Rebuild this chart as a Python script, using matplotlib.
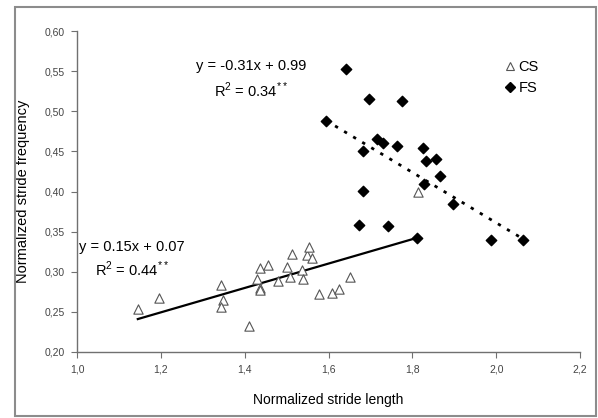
import matplotlib
matplotlib.use("Agg")
import matplotlib.pyplot as plt
import numpy as np
from matplotlib.lines import Line2D
from matplotlib.patches import Rectangle

plt.rcParams["font.family"] = ["Liberation Sans", "DejaVu Sans"]
plt.rcParams["mathtext.fontset"] = "custom"
plt.rcParams["mathtext.rm"] = "Liberation Sans"

# CS group (open triangles)
cs_x = [1.145, 1.196, 1.343, 1.349, 1.343, 1.410, 1.430, 1.437, 1.456, 1.437,
        1.437, 1.480, 1.502, 1.507, 1.514, 1.536, 1.538, 1.548, 1.554, 1.561,
        1.578, 1.608, 1.624, 1.651, 1.813]
cs_y = [0.254, 0.267, 0.283, 0.265, 0.256, 0.232, 0.291, 0.305, 0.308, 0.280,
        0.277, 0.289, 0.306, 0.293, 0.322, 0.302, 0.291, 0.321, 0.331, 0.317,
        0.272, 0.274, 0.279, 0.293, 0.400]

# FS group (filled diamonds)
fs_x = [1.642, 1.697, 1.776, 1.594, 1.715, 1.729, 1.683, 1.764, 1.826, 1.833,
        1.856, 1.866, 1.828, 1.683, 1.896, 1.673, 1.741, 1.810, 1.988, 2.065]
fs_y = [0.553, 0.515, 0.513, 0.488, 0.465, 0.460, 0.451, 0.457, 0.454, 0.438,
        0.440, 0.419, 0.409, 0.401, 0.384, 0.358, 0.357, 0.342, 0.340, 0.339]

# regression lines (slope, intercept) and x range
cs_fit = (0.152, 0.067)
cs_range = (1.145, 1.81)
fs_fit = (-0.314, 0.989)
fs_range = (1.594, 2.065)

x_ticks = [1.0, 1.2, 1.4, 1.6, 1.8, 2.0, 2.2]
y_ticks = [0.20, 0.25, 0.30, 0.35, 0.40, 0.45, 0.50, 0.55, 0.60]

fig = plt.figure(figsize=(5.98, 4.18), dpi=100)
ax = fig.add_axes([0.1288, 0.1579, 0.8412, 0.7679])

fig.patches.append(Rectangle((0.025, 0.005), 0.9717, 0.978, transform=fig.transFigure,
                             fill=False, edgecolor="#8c8c8c", lw=1.5))

gray = "#707070"

xs = np.array(cs_range)
ax.plot(xs, cs_fit[0] * xs + cs_fit[1], color="black", lw=1.6, zorder=2)
xs = np.array(fs_range)
ax.plot(xs, fs_fit[0] * xs + fs_fit[1], color="black", lw=2.0, ls=(0, (1.2, 2.6)), zorder=2)

ax.scatter(cs_x, cs_y, marker="^", s=45, facecolors="white", edgecolors="#555555",
           linewidths=0.8, zorder=3)
ax.scatter(fs_x, fs_y, marker="D", s=28, color="black", zorder=4)

ax.set_xlim(1.0, 2.2)
ax.set_ylim(0.20, 0.60)
ax.set_xticks(x_ticks)
ax.set_yticks(y_ticks)
ax.set_xticklabels([f"{v:.1f}".replace(".", ",") for v in x_ticks])
ax.set_yticklabels([f"{v:.2f}".replace(".", ",") for v in y_ticks])
ax.tick_params(direction="out", length=4, width=0.8, color=gray, labelsize=7.5,
               labelcolor="#444444", pad=5)

for side in ["top", "right"]:
    ax.spines[side].set_visible(False)
for side in ["left", "bottom"]:
    ax.spines[side].set_color(gray)
    ax.spines[side].set_linewidth(1.0)

ax.set_xlabel("Normalized stride length", fontsize=10)
ax.set_ylabel("Normalized stride frequency", fontsize=10.5)
ax.xaxis.set_label_coords(0.5, -0.128)
ax.yaxis.set_label_coords(-0.093, 0.5)

ax.text(1.415, 0.556, "y = -0.31x + 0.99", fontsize=10.5, ha="center", va="center")
ax.text(1.415, 0.526, "R$^{2}$ = 0.34$^{**}$", fontsize=10.5, ha="center", va="center")
ax.text(1.13, 0.331, "y = 0.15x + 0.07", fontsize=10.5, ha="center", va="center")
ax.text(1.13, 0.303, "R$^{2}$ = 0.44$^{**}$", fontsize=10.5, ha="center", va="center")

handles = [
    Line2D([], [], marker="^", ls="", markersize=6, markerfacecolor="white",
           markeredgecolor="#555555", markeredgewidth=0.8, label="CS"),
    Line2D([], [], marker="D", ls="", markersize=5, color="black", label="FS"),
]
ax.legend(handles=handles, loc="upper left", bbox_to_anchor=(0.82, 0.95), frameon=False,
          fontsize=10.5, handletextpad=0.1, handlelength=1.0, labelspacing=0.5)

fig.savefig("out.png")
